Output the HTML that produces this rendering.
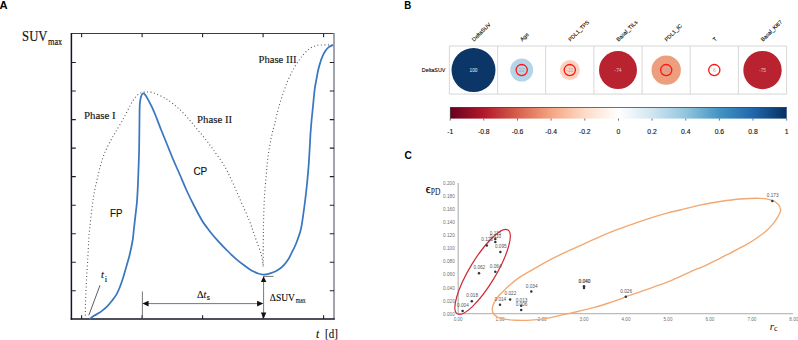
<!DOCTYPE html>
<html><head><meta charset="utf-8"><style>
html,body{margin:0;padding:0;background:#fff;width:798px;height:340px;overflow:hidden}
svg{display:block}
.sa{font-family:"Liberation Sans",sans-serif}
.se{font-family:"Liberation Serif",serif}
</style></head><body>
<svg width="798" height="340" viewBox="0 0 798 340">
<text x="-0.5" y="8.8" class="sa" font-weight="bold" font-size="11.2">A</text>
<line x1="71.4" y1="33.5" x2="334" y2="33.5" stroke="#3c3c44" stroke-width="1.2"/>
<line x1="334" y1="33" x2="334" y2="319" stroke="#8c8c96" stroke-width="1.6"/>
<line x1="71.4" y1="32.9" x2="71.4" y2="319.8" stroke="#141428" stroke-width="1.5"/>
<line x1="70.7" y1="319" x2="334.8" y2="319" stroke="#141428" stroke-width="1.5"/>
<path d="M81.6,33.5v3.8 M81.6,319v-3.8 M142.1,33.5v3.8 M142.1,319v-3.8 M202.6,33.5v3.8 M202.6,319v-3.8 M263.1,33.5v3.8 M263.1,319v-3.8 M323.6,33.5v3.8 M323.6,319v-3.8 M71.4,62.5h4.4 M334,62.5h-4.2 M71.4,91.0h4.4 M334,91.0h-4.2 M71.4,119.6h4.4 M334,119.6h-4.2 M71.4,148.1h4.4 M334,148.1h-4.2 M71.4,176.6h4.4 M334,176.6h-4.2 M71.4,205.2h4.4 M334,205.2h-4.2 M71.4,233.7h4.4 M334,233.7h-4.2 M71.4,262.2h4.4 M334,262.2h-4.2 M71.4,290.7h4.4 M334,290.7h-4.2" stroke="#222" stroke-width="1.1" fill="none"/>
<path d="M85.3,319.0 C85.3,315.8 85.4,306.5 85.6,300.0 C85.8,293.5 86.2,286.7 86.5,280.0 C86.8,273.3 87.3,266.7 87.7,260.0 C88.1,253.3 88.4,245.4 88.7,240.0 C89.0,234.6 89.3,232.8 89.8,227.6 C90.3,222.4 91.2,214.7 91.9,208.8 C92.7,202.9 93.4,197.5 94.3,192.4 C95.2,187.3 96.3,182.9 97.4,178.2 C98.5,173.5 99.6,168.5 100.9,164.1 C102.2,159.7 103.4,155.9 105.1,151.9 C106.8,147.9 109.3,143.2 111.0,140.0 C112.7,136.8 113.1,136.2 115.3,132.4 C117.5,128.6 121.2,122.7 124.1,117.4 C127.0,112.1 130.4,104.5 132.9,100.6 C135.4,96.7 137.2,95.2 139.1,93.8 C140.9,92.4 142.7,92.4 144.0,92.1 C145.3,91.8 145.8,91.9 147.1,91.9 C148.4,92.0 150.2,92.0 152.0,92.4 C153.8,92.8 155.5,93.5 157.6,94.4 C159.7,95.3 162.4,96.8 164.3,97.8 C166.2,98.8 166.6,99.0 168.8,100.6 C171.0,102.2 174.7,104.9 177.6,107.6 C180.5,110.2 183.6,113.3 186.5,116.5 C189.4,119.7 192.4,123.5 195.3,127.0 C198.2,130.5 201.2,133.9 204.1,137.6 C207.0,141.3 209.5,144.3 212.9,149.1 C216.3,153.9 221.4,160.9 224.7,166.5 C228.0,172.1 230.2,177.2 232.6,182.4 C235.0,187.6 236.4,191.1 239.2,197.4 C241.9,203.7 246.4,213.3 249.1,220.0 C251.8,226.7 253.2,231.7 255.3,237.6 C257.4,243.5 260.2,250.4 261.5,255.3 C262.8,260.2 262.9,264.9 263.2,266.8 C263.2,262.3 263.2,247.8 263.3,240.0 C263.4,232.2 263.4,227.0 263.6,220.0 C263.8,213.0 264.0,205.6 264.4,198.2 C264.8,190.8 265.6,182.1 266.2,175.3 C266.8,168.5 267.1,163.8 267.9,157.6 C268.7,151.4 270.0,143.9 271.2,138.0 C272.4,132.1 273.8,127.4 275.0,122.4 C276.2,117.4 277.2,112.9 278.5,108.2 C279.8,103.5 281.4,98.5 282.9,94.1 C284.4,89.6 285.8,85.5 287.5,81.5 C289.2,77.5 291.1,73.6 293.0,70.0 C294.9,66.4 297.3,62.7 299.1,60.0 C300.9,57.3 302.3,55.9 304.0,54.0 C305.7,52.1 307.6,50.1 309.4,48.8 C311.2,47.5 313.0,46.6 315.0,46.0 C317.0,45.4 318.0,45.2 321.2,45.0 C324.4,44.8 331.9,45.0 334.0,45.0" stroke="#555" stroke-width="1.1" fill="none" stroke-dasharray="1 2.5"/>
<path d="M89.7,319.0 C90.5,318.4 92.9,316.6 94.4,315.6 C95.9,314.6 97.3,314.1 98.8,313.1 C100.3,312.2 101.7,311.1 103.2,309.9 C104.7,308.7 106.2,307.4 107.7,305.9 C109.2,304.3 110.6,302.5 112.1,300.6 C113.6,298.7 115.3,296.5 116.5,294.4 C117.7,292.3 118.5,290.4 119.5,288.0 C120.5,285.6 121.5,282.7 122.4,280.0 C123.3,277.3 124.1,274.5 124.8,272.0 C125.5,269.5 126.0,267.8 126.8,265.0 C127.6,262.2 128.6,259.2 129.6,255.0 C130.6,250.8 132.0,244.2 132.7,240.0 C133.4,235.8 133.3,234.2 133.8,230.0 C134.3,225.8 134.9,220.0 135.5,215.0 C136.1,210.0 136.7,205.8 137.1,200.0 C137.5,194.2 137.8,188.3 138.1,180.0 C138.4,171.7 138.9,160.3 139.1,150.0 C139.3,139.7 139.4,125.3 139.5,118.0 C139.6,110.7 139.6,108.8 139.7,106.0 C139.8,103.2 140.0,102.7 140.2,101.2 C140.4,99.7 140.6,98.1 141.0,96.8 C141.4,95.5 142.1,93.8 142.8,93.5 C143.5,93.2 144.5,93.9 145.4,95.1 C146.3,96.2 147.4,98.4 148.5,100.4 C149.6,102.5 150.9,105.0 152.1,107.4 C153.2,109.8 153.9,111.2 155.4,115.0 C156.9,118.8 159.2,125.0 161.2,130.0 C163.2,135.0 165.3,140.0 167.3,145.0 C169.3,150.0 171.3,155.0 173.4,160.0 C175.5,165.0 177.8,170.0 180.0,175.0 C182.2,180.0 184.1,185.0 186.4,190.0 C188.7,195.0 191.1,200.0 193.7,205.0 C196.2,210.0 199.5,216.2 201.7,220.0 C203.9,223.8 205.2,225.2 207.0,227.6 C208.8,230.0 210.5,232.3 212.3,234.5 C214.1,236.7 215.8,238.5 217.9,240.8 C220.0,243.1 222.6,245.9 225.0,248.3 C227.4,250.7 229.9,253.3 232.1,255.4 C234.3,257.5 236.2,259.2 238.3,260.9 C240.4,262.6 243.0,264.5 244.8,265.8 C246.6,267.1 247.7,267.9 249.2,268.9 C250.7,269.9 252.2,270.8 253.7,271.6 C255.2,272.4 256.5,273.0 258.1,273.5 C259.7,274.0 261.8,274.5 263.2,274.6 C264.6,274.7 265.1,274.5 266.4,274.3 C267.7,274.1 269.3,273.7 270.8,273.2 C272.3,272.7 273.7,272.2 275.2,271.5 C276.7,270.8 278.2,269.9 279.7,268.8 C281.2,267.7 282.6,266.5 284.1,264.9 C285.6,263.3 287.2,261.1 288.5,259.1 C289.8,257.1 290.4,255.4 291.6,252.9 C292.8,250.4 294.4,247.8 295.9,244.0 C297.4,240.2 299.5,234.8 300.7,230.0 C301.9,225.2 302.4,220.0 303.2,215.0 C303.9,210.0 304.6,205.0 305.2,200.0 C305.8,195.0 306.3,190.8 306.9,185.0 C307.5,179.2 308.2,170.8 308.7,165.0 C309.1,159.2 309.3,155.0 309.6,150.0 C309.9,145.0 310.1,140.0 310.4,135.0 C310.7,130.0 311.2,125.0 311.6,120.0 C312.1,115.0 312.6,110.0 313.1,105.0 C313.6,100.0 314.1,94.2 314.6,90.0 C315.1,85.8 315.7,83.3 316.3,80.0 C316.9,76.7 317.5,73.0 318.2,70.0 C318.9,67.0 319.6,64.5 320.4,62.1 C321.1,59.8 321.9,57.8 322.7,55.9 C323.5,54.0 324.3,52.5 325.3,51.0 C326.3,49.5 327.5,48.1 328.8,47.1 C330.1,46.1 332.5,45.3 333.2,44.9" stroke="#3a77c0" stroke-width="1.75" fill="none" stroke-linejoin="round"/>
<path d="M100,285.3L88.8,315.3" stroke="#333" stroke-width="0.8"/>
<path d="M142.4,291.5V319 M263.6,276.3V319 M263.6,276.4H273.6 M148,303.6H257.5" stroke="#555" stroke-width="0.8" fill="none"/>
<path d="M142.4,303.6l6.2,-2.8v5.6z M263.3,303.6l-6.2,-2.8v5.6z M263.6,276.3l-2.7,5.6h5.4z M263.6,318.7l-2.7,-6.2h5.4z" fill="#111"/>
<text x="22.1" y="41.3" class="se" font-size="14.00" fill="#111" textLength="25.3" lengthAdjust="spacingAndGlyphs" stroke="#111" stroke-width="0.16">SUV</text>
<text x="48.0" y="44.7" class="se" font-size="9.50" fill="#111" textLength="14.2" lengthAdjust="spacingAndGlyphs" stroke="#111" stroke-width="0.16">max</text>
<text x="84.0" y="118.5" class="se" font-size="10.90" fill="#1a1a1a" textLength="31.6" lengthAdjust="spacingAndGlyphs" stroke="#111" stroke-width="0.16">Phase I</text>
<text x="197.1" y="122.6" class="se" font-size="10.90" fill="#1a1a1a" textLength="35.0" lengthAdjust="spacingAndGlyphs" stroke="#111" stroke-width="0.16">Phase II</text>
<text x="258.5" y="62.9" class="se" font-size="10.90" fill="#1a1a1a" textLength="38.0" lengthAdjust="spacingAndGlyphs" stroke="#111" stroke-width="0.16">Phase III</text>
<text x="110.1" y="216.6" class="sa" font-size="11.80" fill="#111" textLength="12.4" lengthAdjust="spacingAndGlyphs" stroke="#111" stroke-width="0.16">FP</text>
<text x="193.4" y="174.7" class="sa" font-size="11.80" fill="#111" textLength="13.9" lengthAdjust="spacingAndGlyphs" stroke="#111" stroke-width="0.16">CP</text>
<text x="101.0" y="277.9" class="se" font-size="10.50" fill="#111" font-style="italic" stroke="#111" stroke-width="0.16">t</text>
<text x="104.7" y="281.6" class="se" font-size="8.50" fill="#111" stroke="#111" stroke-width="0.16">i</text>
<text x="196.9" y="297.9" class="se" font-size="10.20" fill="#000" stroke="#000" stroke-width="0.1">&#916;</text>
<text x="203.5" y="297.9" class="se" font-size="9.80" fill="#111" font-style="italic" stroke="#111" stroke-width="0.16">t</text>
<text x="206.7" y="299.6" class="sa" font-size="6.40" fill="#111" stroke="#111" stroke-width="0.16">s</text>
<text x="269.8" y="300.7" class="se" font-size="10.00" fill="#000" textLength="25.1" lengthAdjust="spacingAndGlyphs" stroke="#000" stroke-width="0.1">&#916;SUV</text>
<text x="295.7" y="303.0" class="se" font-size="7.20" fill="#000" textLength="10.0" lengthAdjust="spacingAndGlyphs" stroke="#000" stroke-width="0.08">max</text>
<text x="316.0" y="337.8" class="se" font-size="11.50" fill="#111" font-style="italic" stroke="#111" stroke-width="0.16">t</text>
<text x="325.1" y="337.8" class="se" font-size="12.40" fill="#111" textLength="12.7" lengthAdjust="spacingAndGlyphs" stroke="#111" stroke-width="0.16">[d]</text>
<text x="404.2" y="8.7" class="sa" font-weight="bold" font-size="11.2" textLength="7" lengthAdjust="spacingAndGlyphs">B</text>
<path d="M449.4,46.0H786.6 M449.4,94.1H786.6 M449.4,46.0V94.1 M497.6,46.0V94.1 M545.7,46.0V94.1 M593.9,46.0V94.1 M642.1,46.0V94.1 M690.2,46.0V94.1 M738.4,46.0V94.1 M786.6,46.0V94.1" stroke="#d2d2d2" stroke-width="0.9" fill="none"/>
<circle cx="473.5" cy="70.1" r="22.0" fill="#0c3668"/>
<text x="473.5" y="71.8" class="sa" font-size="4.8" fill="#f0f0f0" text-anchor="middle">100</text>
<text transform="translate(474.1,41.8) rotate(-45)" class="sa" font-size="5.45" fill="#000" stroke="#000" stroke-width="0.1">DeltaSUV</text>
<circle cx="521.7" cy="70.1" r="11.5" fill="#b5d4e8"/>
<circle cx="521.7" cy="70.1" r="5.6" fill="none" stroke="#ff1414" stroke-width="1.3"/>
<text x="521.7" y="71.8" class="sa" font-size="4.8" fill="#aaa" text-anchor="middle">22</text>
<text transform="translate(522.3,41.8) rotate(-45)" class="sa" font-size="5.45" fill="#000" stroke="#000" stroke-width="0.1">Age</text>
<circle cx="569.8" cy="70.1" r="10.0" fill="#fad2bf"/>
<circle cx="569.8" cy="70.1" r="5.6" fill="none" stroke="#ff1414" stroke-width="1.3"/>
<text x="569.8" y="71.8" class="sa" font-size="4.8" fill="#aaa" text-anchor="middle">-21</text>
<text transform="translate(570.4,41.8) rotate(-45)" class="sa" font-size="5.45" fill="#000" stroke="#000" stroke-width="0.1">PDL1_TPS</text>
<circle cx="618.0" cy="70.1" r="19.0" fill="#b8232f"/>
<text x="618.0" y="71.8" class="sa" font-size="4.8" fill="#e6c4c4" text-anchor="middle">-74</text>
<text transform="translate(618.6,41.8) rotate(-45)" class="sa" font-size="5.45" fill="#000" stroke="#000" stroke-width="0.1">Basal_TILs</text>
<circle cx="666.2" cy="70.1" r="14.7" fill="#ec9f7f"/>
<circle cx="666.2" cy="70.1" r="5.6" fill="none" stroke="#ff1414" stroke-width="1.3"/>
<text x="666.2" y="71.8" class="sa" font-size="4.8" fill="#aaa" text-anchor="middle">-60</text>
<text transform="translate(666.8,41.8) rotate(-45)" class="sa" font-size="5.45" fill="#000" stroke="#000" stroke-width="0.1">PDL1_IC</text>
<circle cx="714.3" cy="70.1" r="5.6" fill="none" stroke="#ff1414" stroke-width="1.3"/>
<text x="714.3" y="71.8" class="sa" font-size="4.8" fill="#aaa" text-anchor="middle">6</text>
<text transform="translate(714.9,41.8) rotate(-45)" class="sa" font-size="5.45" fill="#000" stroke="#000" stroke-width="0.1">T</text>
<circle cx="762.5" cy="70.1" r="19.2" fill="#b8232f"/>
<text x="762.5" y="71.8" class="sa" font-size="4.8" fill="#e6c4c4" text-anchor="middle">-75</text>
<text transform="translate(763.1,41.8) rotate(-45)" class="sa" font-size="5.45" fill="#000" stroke="#000" stroke-width="0.1">Basal_Ki67</text>
<text x="421.8" y="71.6" class="sa" font-size="6" fill="#000" stroke="#000" stroke-width="0.1" textLength="23.6" lengthAdjust="spacingAndGlyphs">DeltaSUV</text>
<defs><linearGradient id="rdbu" x1="0" x2="1" y1="0" y2="0">
<stop offset="0" stop-color="#67001F"/><stop offset="0.1" stop-color="#B2182B"/><stop offset="0.2" stop-color="#D6604D"/><stop offset="0.3" stop-color="#F4A582"/><stop offset="0.4" stop-color="#FDDBC7"/><stop offset="0.5" stop-color="#FFFFFF"/><stop offset="0.6" stop-color="#D1E5F0"/><stop offset="0.7" stop-color="#92C5DE"/><stop offset="0.8" stop-color="#4393C3"/><stop offset="0.9" stop-color="#2166AC"/><stop offset="1" stop-color="#053061"/></linearGradient></defs>
<rect x="450.2" y="107.2" width="336.5" height="11.4" fill="url(#rdbu)"/>
<path d="M450.4,118.6V107.5H786.7" stroke="#333" stroke-width="0.7" fill="none"/>
<text x="450.2" y="133.6" class="sa" font-size="6.8" fill="#111" stroke="#111" stroke-width="0.12" text-anchor="middle">-1</text>
<text x="483.8" y="133.6" class="sa" font-size="6.8" fill="#111" stroke="#111" stroke-width="0.12" text-anchor="middle">-0.8</text>
<text x="517.5" y="133.6" class="sa" font-size="6.8" fill="#111" stroke="#111" stroke-width="0.12" text-anchor="middle">-0.6</text>
<text x="551.1" y="133.6" class="sa" font-size="6.8" fill="#111" stroke="#111" stroke-width="0.12" text-anchor="middle">-0.4</text>
<text x="584.8" y="133.6" class="sa" font-size="6.8" fill="#111" stroke="#111" stroke-width="0.12" text-anchor="middle">-0.2</text>
<text x="618.5" y="133.6" class="sa" font-size="6.8" fill="#111" stroke="#111" stroke-width="0.12" text-anchor="middle">0</text>
<text x="652.1" y="133.6" class="sa" font-size="6.8" fill="#111" stroke="#111" stroke-width="0.12" text-anchor="middle">0.2</text>
<text x="685.8" y="133.6" class="sa" font-size="6.8" fill="#111" stroke="#111" stroke-width="0.12" text-anchor="middle">0.4</text>
<text x="719.4" y="133.6" class="sa" font-size="6.8" fill="#111" stroke="#111" stroke-width="0.12" text-anchor="middle">0.6</text>
<text x="753.0" y="133.6" class="sa" font-size="6.8" fill="#111" stroke="#111" stroke-width="0.12" text-anchor="middle">0.8</text>
<text x="786.7" y="133.6" class="sa" font-size="6.8" fill="#111" stroke="#111" stroke-width="0.12" text-anchor="middle">1</text>
<path d="M450.2,118.6v2 M483.8,118.6v2 M517.5,118.6v2 M551.1,118.6v2 M584.8,118.6v2 M618.5,118.6v2 M652.1,118.6v2 M685.8,118.6v2 M719.4,118.6v2 M753.0,118.6v2 M786.7,118.6v2" stroke="#333" stroke-width="0.7"/>
<text x="404.4" y="158.9" class="sa" font-weight="bold" font-size="11.2" textLength="7.3" lengthAdjust="spacingAndGlyphs">C</text>
<path d="M458.2,183V313.6H793" stroke="#bcbcbc" stroke-width="1.3" fill="none"/>
<text x="454.8" y="315.6" class="sa" font-size="4.7" fill="#707070" text-anchor="end">0.000</text>
<text x="454.8" y="302.5" class="sa" font-size="4.7" fill="#707070" text-anchor="end">0.020</text>
<text x="454.8" y="289.5" class="sa" font-size="4.7" fill="#707070" text-anchor="end">0.040</text>
<text x="454.8" y="276.4" class="sa" font-size="4.7" fill="#707070" text-anchor="end">0.060</text>
<text x="454.8" y="263.4" class="sa" font-size="4.7" fill="#707070" text-anchor="end">0.080</text>
<text x="454.8" y="250.3" class="sa" font-size="4.7" fill="#707070" text-anchor="end">0.100</text>
<text x="454.8" y="237.2" class="sa" font-size="4.7" fill="#707070" text-anchor="end">0.120</text>
<text x="454.8" y="224.2" class="sa" font-size="4.7" fill="#707070" text-anchor="end">0.140</text>
<text x="454.8" y="211.1" class="sa" font-size="4.7" fill="#707070" text-anchor="end">0.160</text>
<text x="454.8" y="198.1" class="sa" font-size="4.7" fill="#707070" text-anchor="end">0.180</text>
<text x="454.8" y="185.0" class="sa" font-size="4.7" fill="#707070" text-anchor="end">0.200</text>
<text x="458.2" y="320.5" class="sa" font-size="4.6" fill="#707070" text-anchor="middle">0.00</text>
<text x="500.1" y="320.5" class="sa" font-size="4.6" fill="#707070" text-anchor="middle">1.00</text>
<text x="542.1" y="320.5" class="sa" font-size="4.6" fill="#707070" text-anchor="middle">2.00</text>
<text x="584.0" y="320.5" class="sa" font-size="4.6" fill="#707070" text-anchor="middle">3.00</text>
<text x="626.0" y="320.5" class="sa" font-size="4.6" fill="#707070" text-anchor="middle">4.00</text>
<text x="668.0" y="320.5" class="sa" font-size="4.6" fill="#707070" text-anchor="middle">5.00</text>
<text x="709.9" y="320.5" class="sa" font-size="4.6" fill="#707070" text-anchor="middle">6.00</text>
<text x="751.9" y="320.5" class="sa" font-size="4.6" fill="#707070" text-anchor="middle">7.00</text>
<text x="793.8" y="320.5" class="sa" font-size="4.6" fill="#707070" text-anchor="middle">8.00</text>
<text x="425.8" y="193.4" class="se" font-size="12" fill="#000" stroke="#000" stroke-width="0.25">&#1013;</text>
<text x="430.8" y="195.3" class="se" font-size="9.6" fill="#111" textLength="9.6" lengthAdjust="spacingAndGlyphs">PD</text>
<text x="769.8" y="329.5" class="se" font-style="italic" font-size="11" fill="#111">r<tspan font-style="normal" font-size="8" dy="1.8">c</tspan></text>
<ellipse cx="482.6" cy="271.9" rx="49" ry="13.1" transform="rotate(-58.9 482.6 271.9)" fill="none" stroke="#cf2a35" stroke-width="1.2"/>
<path d="M492.2,309.6 C492.1,307.7 492.7,305.7 493.8,303.4 C494.9,301.1 496.8,298.2 498.6,296.0 C500.4,293.8 503.1,291.5 504.6,290.0 C506.1,288.5 505.3,288.9 507.8,286.8 C510.3,284.7 514.5,280.7 519.4,277.4 C524.3,274.1 531.5,270.3 537.1,267.1 C542.7,263.9 547.7,261.0 553.2,258.2 C558.7,255.4 564.5,252.6 570.0,250.1 C575.5,247.6 580.8,245.3 586.2,242.9 C591.6,240.5 597.0,237.9 602.4,235.6 C607.8,233.3 613.1,231.1 618.5,229.1 C623.9,227.1 629.3,225.2 634.7,223.3 C640.1,221.4 645.5,219.5 650.9,217.8 C656.3,216.1 662.2,214.4 667.1,213.1 C672.0,211.8 674.5,211.3 680.0,210.0 C685.5,208.7 693.3,206.6 700.0,205.2 C706.7,203.8 713.4,202.5 720.1,201.5 C726.8,200.5 733.6,199.5 740.2,199.0 C746.9,198.5 754.6,198.1 760.0,198.3 C765.4,198.5 769.2,199.2 772.3,200.3 C775.4,201.4 777.2,203.3 778.6,204.8 C780.0,206.3 780.4,208.1 780.6,209.4 C780.8,210.7 780.5,211.1 780.0,212.4 C779.5,213.7 778.8,215.2 777.6,217.1 C776.4,219.0 774.9,221.8 772.9,224.1 C770.9,226.4 768.6,228.8 765.9,231.2 C763.2,233.5 759.6,236.0 756.5,238.2 C753.4,240.3 749.9,242.5 747.1,244.1 C744.4,245.7 743.3,246.0 740.0,247.8 C736.7,249.6 731.2,252.6 727.1,254.7 C723.0,256.8 718.8,258.8 715.3,260.6 C711.8,262.4 709.8,263.5 705.9,265.3 C702.0,267.1 696.1,269.3 691.8,271.2 C687.5,273.1 684.1,274.8 680.0,276.6 C675.9,278.4 671.2,280.5 667.1,282.1 C663.0,283.7 659.2,285.0 655.3,286.4 C651.4,287.8 647.4,289.3 643.5,290.7 C639.6,292.1 634.8,293.7 631.8,294.7 C628.8,295.7 627.3,296.2 625.3,296.9 C623.3,297.6 623.0,298.0 620.0,299.1 C617.0,300.2 611.2,302.2 607.1,303.5 C603.0,304.8 599.2,306.0 595.3,307.1 C591.4,308.2 587.4,309.2 583.5,310.2 C579.6,311.2 575.7,312.0 571.8,312.9 C567.9,313.8 563.3,314.6 560.0,315.4 C556.7,316.1 555.0,316.8 551.9,317.4 C548.8,318.0 545.0,318.8 541.6,319.2 C538.2,319.6 534.7,319.9 531.3,320.1 C527.9,320.3 524.4,320.4 521.0,320.4 C517.6,320.4 514.1,320.2 510.7,319.9 C507.3,319.5 503.1,319.2 500.4,318.3 C497.7,317.4 495.7,316.1 494.3,314.7 C492.9,313.2 492.3,311.5 492.2,309.6Z" fill="none" stroke="#f2a870" stroke-width="1.35"/>
<circle cx="462.6" cy="311.1" r="1.25" fill="#333"/>
<text x="457.1" y="307.1" class="sa" font-size="4.7" fill="#555">0.004</text>
<circle cx="471.8" cy="301.2" r="1.25" fill="#333"/>
<text x="466.3" y="297.2" class="sa" font-size="4.7" fill="#555">0.018</text>
<circle cx="479.0" cy="273.2" r="1.25" fill="#333"/>
<text x="473.5" y="269.2" class="sa" font-size="4.7" fill="#555">0.062</text>
<circle cx="495.3" cy="271.8" r="1.25" fill="#333"/>
<text x="489.8" y="267.8" class="sa" font-size="4.7" fill="#555">0.064</text>
<circle cx="500.4" cy="252.1" r="1.25" fill="#333"/>
<text x="494.9" y="248.1" class="sa" font-size="4.7" fill="#555">0.095</text>
<circle cx="495.3" cy="242.1" r="1.25" fill="#333"/>
<text x="489.8" y="238.1" class="sa" font-size="4.7" fill="#555">0.110</text>
<circle cx="495.3" cy="238.9" r="1.25" fill="#333"/>
<text x="489.8" y="234.7" class="sa" font-size="4.7" fill="#555">0.115</text>
<circle cx="486.8" cy="245.4" r="1.25" fill="#333"/>
<text x="481.3" y="241.4" class="sa" font-size="4.7" fill="#555">0.120</text>
<circle cx="500.0" cy="304.7" r="1.25" fill="#333"/>
<text x="494.5" y="300.7" class="sa" font-size="4.7" fill="#555">0.014</text>
<circle cx="510.1" cy="299.4" r="1.25" fill="#333"/>
<text x="504.6" y="295.4" class="sa" font-size="4.7" fill="#555">0.022</text>
<circle cx="521.2" cy="305.8" r="1.25" fill="#333"/>
<text x="515.7" y="301.8" class="sa" font-size="4.7" fill="#555">0.013</text>
<circle cx="521.2" cy="310.0" r="1.25" fill="#333"/>
<text x="515.7" y="306.0" class="sa" font-size="4.7" fill="#555">0.006</text>
<circle cx="531.3" cy="291.6" r="1.25" fill="#333"/>
<text x="525.8" y="287.6" class="sa" font-size="4.7" fill="#555">0.034</text>
<circle cx="584.0" cy="287.9" r="1.25" fill="#333"/>
<text x="578.5" y="282.7" class="sa" font-size="4.7" fill="#555">0.040</text>
<circle cx="584.0" cy="286.3" r="1.25" fill="#333"/>
<text x="578.8" y="282.5" class="sa" font-size="4.7" fill="#555">0.040</text>
<circle cx="625.8" cy="296.8" r="1.25" fill="#333"/>
<text x="620.3" y="292.8" class="sa" font-size="4.7" fill="#555">0.026</text>
<circle cx="772.3" cy="201.0" r="1.25" fill="#333"/>
<text x="766.8" y="197.0" class="sa" font-size="4.7" fill="#555">0.173</text>
</svg>
</body></html>
